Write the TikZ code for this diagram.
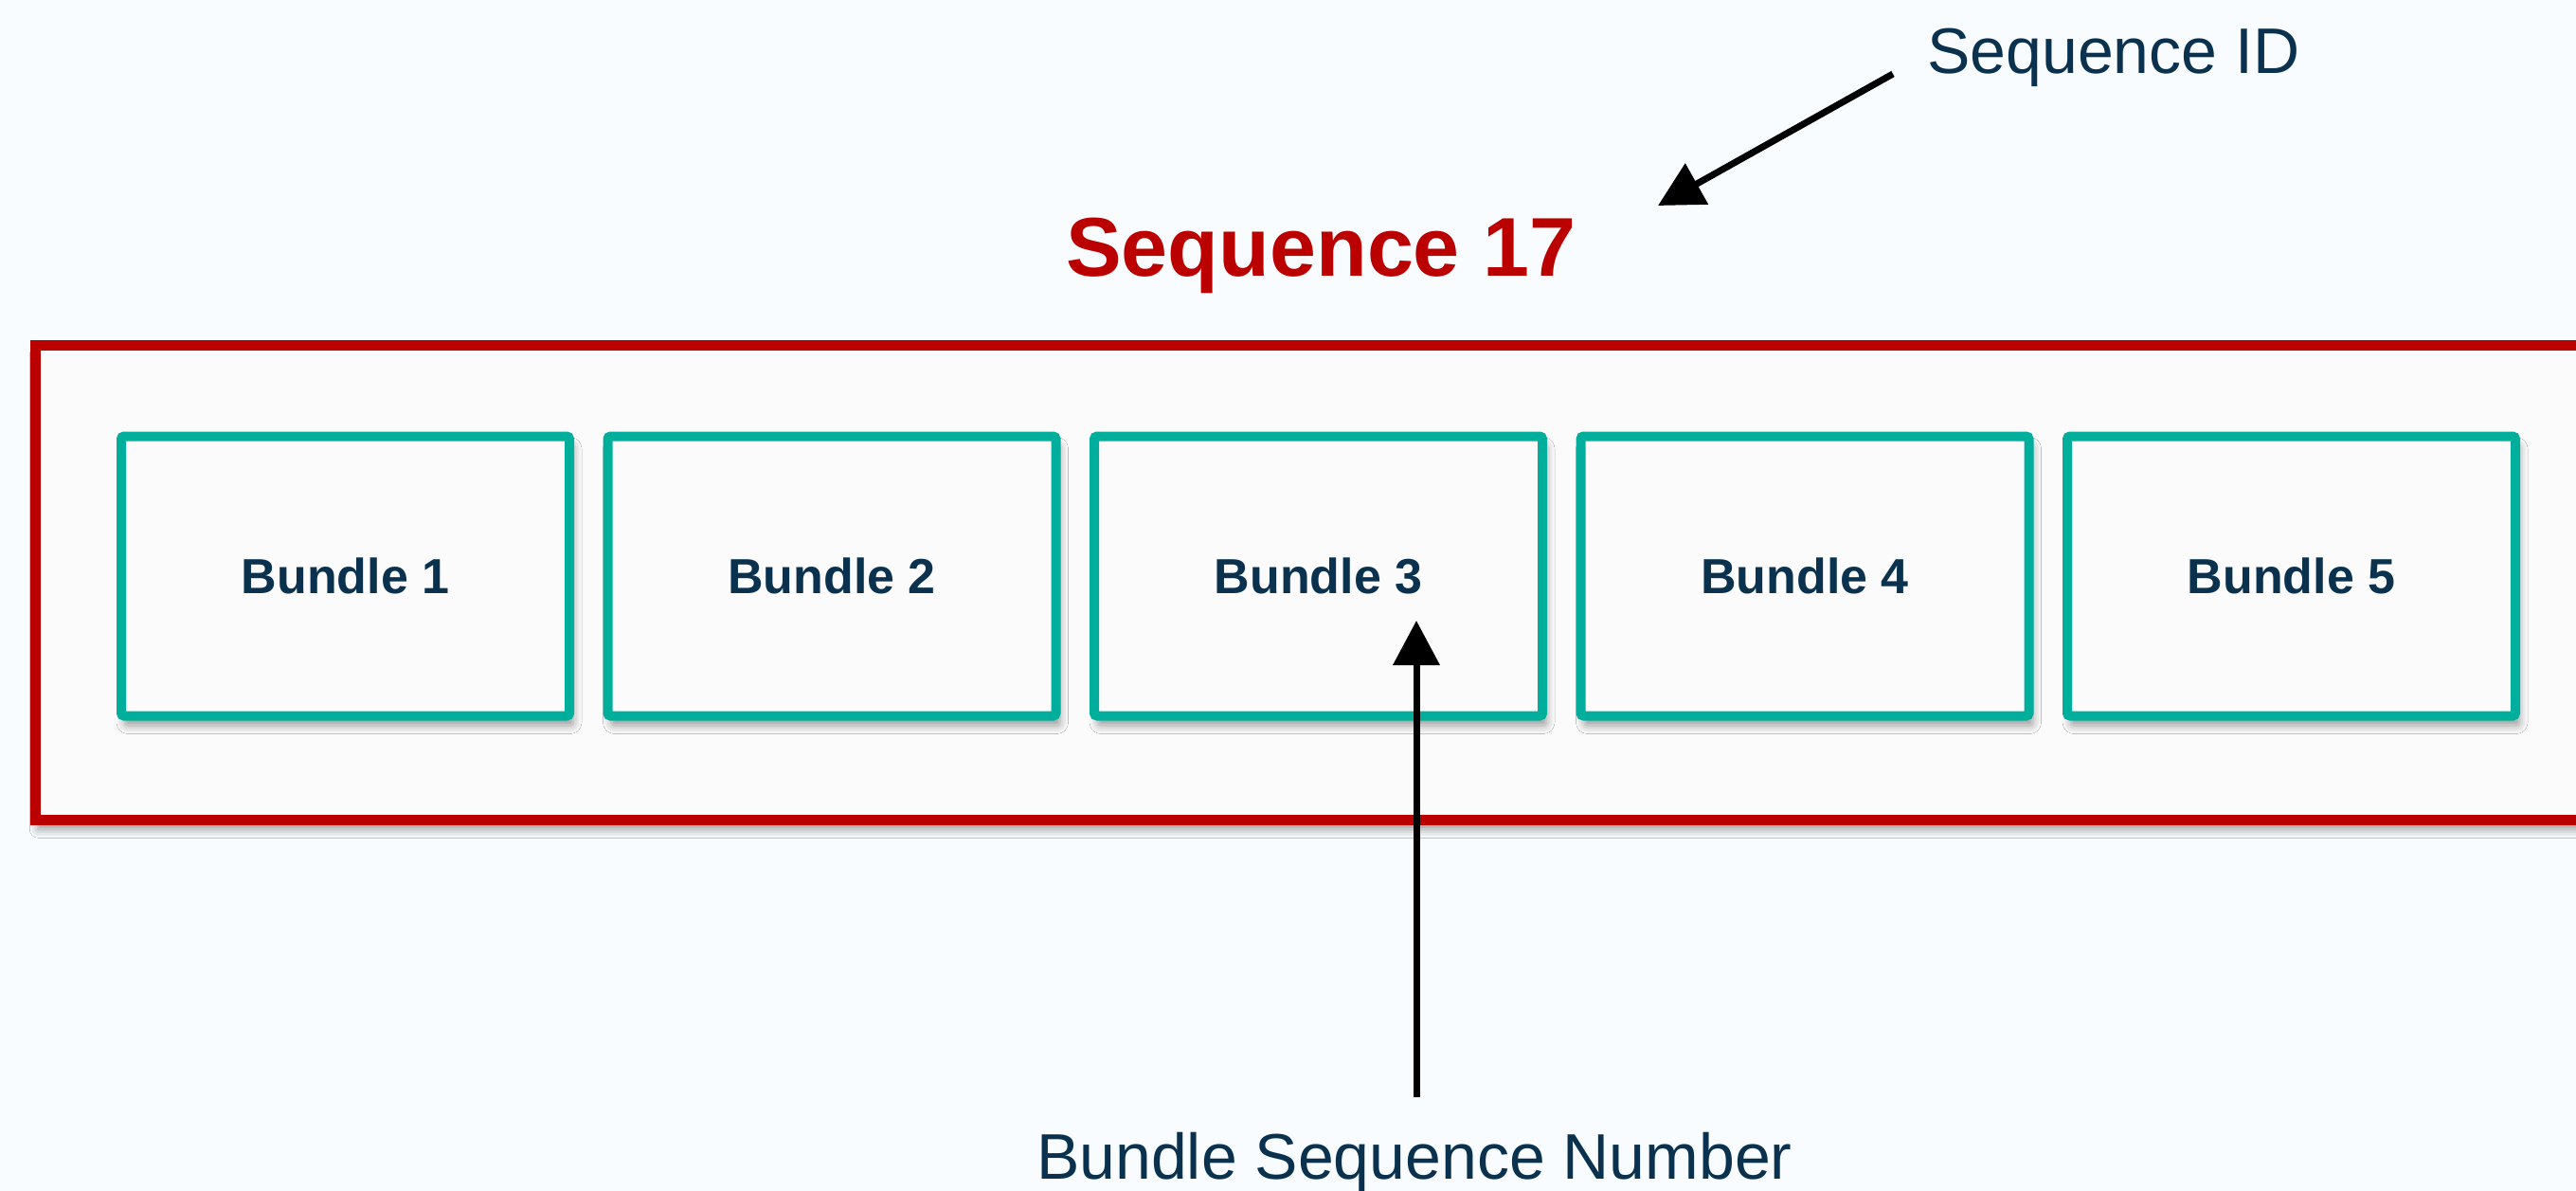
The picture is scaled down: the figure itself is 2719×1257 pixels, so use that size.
\documentclass[tikz,border=0pt]{standalone}
\usepackage{fontspec}
\setmainfont{Liberation Sans}
\usetikzlibrary{arrows.meta,shadows.blur}
\definecolor{bg}{RGB}{249,252,254}
\definecolor{boxfill}{RGB}{251,251,252}
\definecolor{seqred}{RGB}{187,0,0}
\definecolor{tealc}{RGB}{0,174,156}
\definecolor{navy}{RGB}{10,50,78}
\begin{document}
\begin{tikzpicture}[x=1pt,y=-1pt,
  seqbox/.style={draw=seqred, line width=10.5pt, fill=boxfill, inner sep=0pt,
    blur shadow={shadow xshift=3pt, shadow yshift=-10pt, shadow blur radius=9pt, shadow opacity=40}},
  bundlebox/.style={draw=tealc, line width=10pt, fill=boxfill, inner sep=0pt,
    minimum width=473pt, minimum height=295pt, rounded corners=3pt,
    text=navy, font=\fontsize{52}{60}\selectfont\bfseries,
    blur shadow={shadow xshift=4pt, shadow yshift=-10pt, shadow blur radius=9pt, shadow opacity=40}},
  lbl/.style={inner sep=0pt, text=navy, font=\fontsize{68}{80}\selectfont},
  titlelbl/.style={inner sep=0pt, text=seqred, font=\fontsize{88}{100}\selectfont\bfseries},
  arr/.style={line width=7pt, draw=black, -{Triangle[length=47pt,width=48pt]}}
]
\fill[bg] (0,0) rectangle (2719,1257);
\useasboundingbox (0,0) rectangle (2719,1257);
\clip (0,0) rectangle (2719,1257);

\node[seqbox, anchor=north west, minimum width=2800pt, minimum height=501pt] (seq) at (32,359) {};

\foreach \i in {1,...,5} {
  \node[bundlebox] (b\i) at ({364.5+(\i-1)*513.5}, 608) {Bundle \i};
}

\node[titlelbl, anchor=base west] (s17) at (1125,291) {Sequence 17};
\node[lbl, anchor=base west] (sid) at (2034,78) {Sequence ID};
\node[lbl, anchor=base] (bsn) at (1493,1244) {Bundle Sequence Number};

\coordinate (t1) at (1750,217);
\coordinate (t2) at (1495,655);
\draw[arr] ([xshift=-36pt]sid.base west) -- (t1);
\draw[arr] ([xshift=2pt,yshift=37pt]bsn.north) -- (t2);
\end{tikzpicture}
\end{document}
